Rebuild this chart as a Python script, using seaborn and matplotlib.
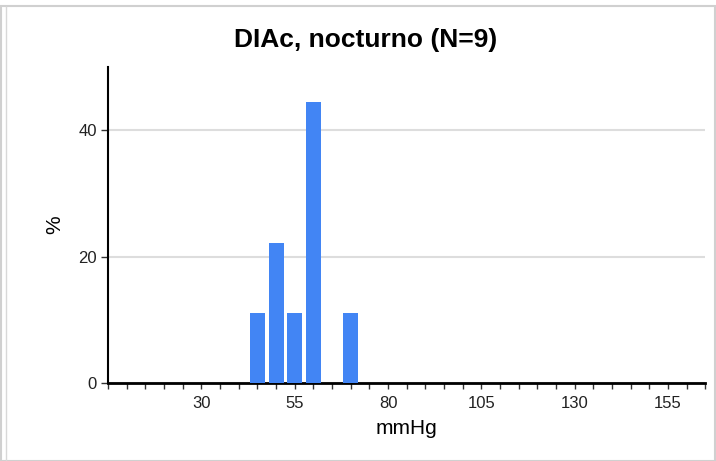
import matplotlib
matplotlib.use('Agg')
import matplotlib.pyplot as plt
from matplotlib.ticker import MultipleLocator
from matplotlib.patches import Rectangle
import seaborn as sns

sns.set_theme(style='white')
plt.rcParams['font.family'] = ['Liberation Sans', 'DejaVu Sans']
plt.rcParams['text.color'] = 'black'
plt.rcParams['axes.labelcolor'] = 'black'
plt.rcParams['xtick.labelcolor'] = '#222222'
plt.rcParams['ytick.labelcolor'] = '#222222'

# ── Data ─────────────────────────────────────────────────────────────────────
bin_centers = [45, 50, 55, 60, 70]          # mmHg
percent = [11.1, 22.2, 11.1, 44.4, 11.1]     # % of readings
title = 'DIAc, nocturno (N=9)'
x_ticks = [30, 55, 80, 105, 130, 155]
y_ticks = [0, 20, 40]

# ── Plot ─────────────────────────────────────────────────────────────────────
fig = plt.figure(figsize=(7.16, 4.61), dpi=100)
ax = fig.add_axes([0.151, 0.169, 0.834, 0.686])

sns.barplot(x=bin_centers, y=percent, native_scale=True, width=0.8,
            color='#4285F4', saturation=1, linewidth=0, edgecolor='none',
            ax=ax, zorder=3)

ax.set_xlim(5, 165)
ax.set_ylim(0, 50)
ax.set_xticks(x_ticks)
ax.xaxis.set_minor_locator(MultipleLocator(5))
ax.set_yticks(y_ticks)
ax.yaxis.grid(True, color='#dddddd', linewidth=1.5, zorder=0)
ax.xaxis.grid(False)

for s in ['top', 'right']:
    ax.spines[s].set_visible(False)
ax.spines['left'].set_color('black')
ax.spines['left'].set_linewidth(1.5)
ax.spines['bottom'].set_color('black')
ax.spines['bottom'].set_linewidth(2)

ax.tick_params(axis='x', which='both', bottom=True, direction='out',
               length=4, width=1, color='#333333', labelsize=12, pad=5)
ax.tick_params(axis='y', which='major', left=True, direction='out',
               length=5, width=1, color='#333333', labelsize=12, pad=3)

ax.set_xlabel('mmHg', fontsize=15, labelpad=6)
ax.set_ylabel('%', fontsize=15, labelpad=10)
fig.suptitle(title, fontsize=19, fontweight='bold', x=0.511, y=0.94)

# light frame around the figure
fig.patches.append(Rectangle((0.002, 0.0), 0.996, 0.988, transform=fig.transFigure,
                             fill=False, edgecolor='#d0d0d0', linewidth=1.5))
fig.patches.append(Rectangle((0.009, 0.0), 0.0, 0.988, transform=fig.transFigure,
                             fill=False, edgecolor='#d8d8d8', linewidth=1))

fig.savefig('out.png', dpi=100)
